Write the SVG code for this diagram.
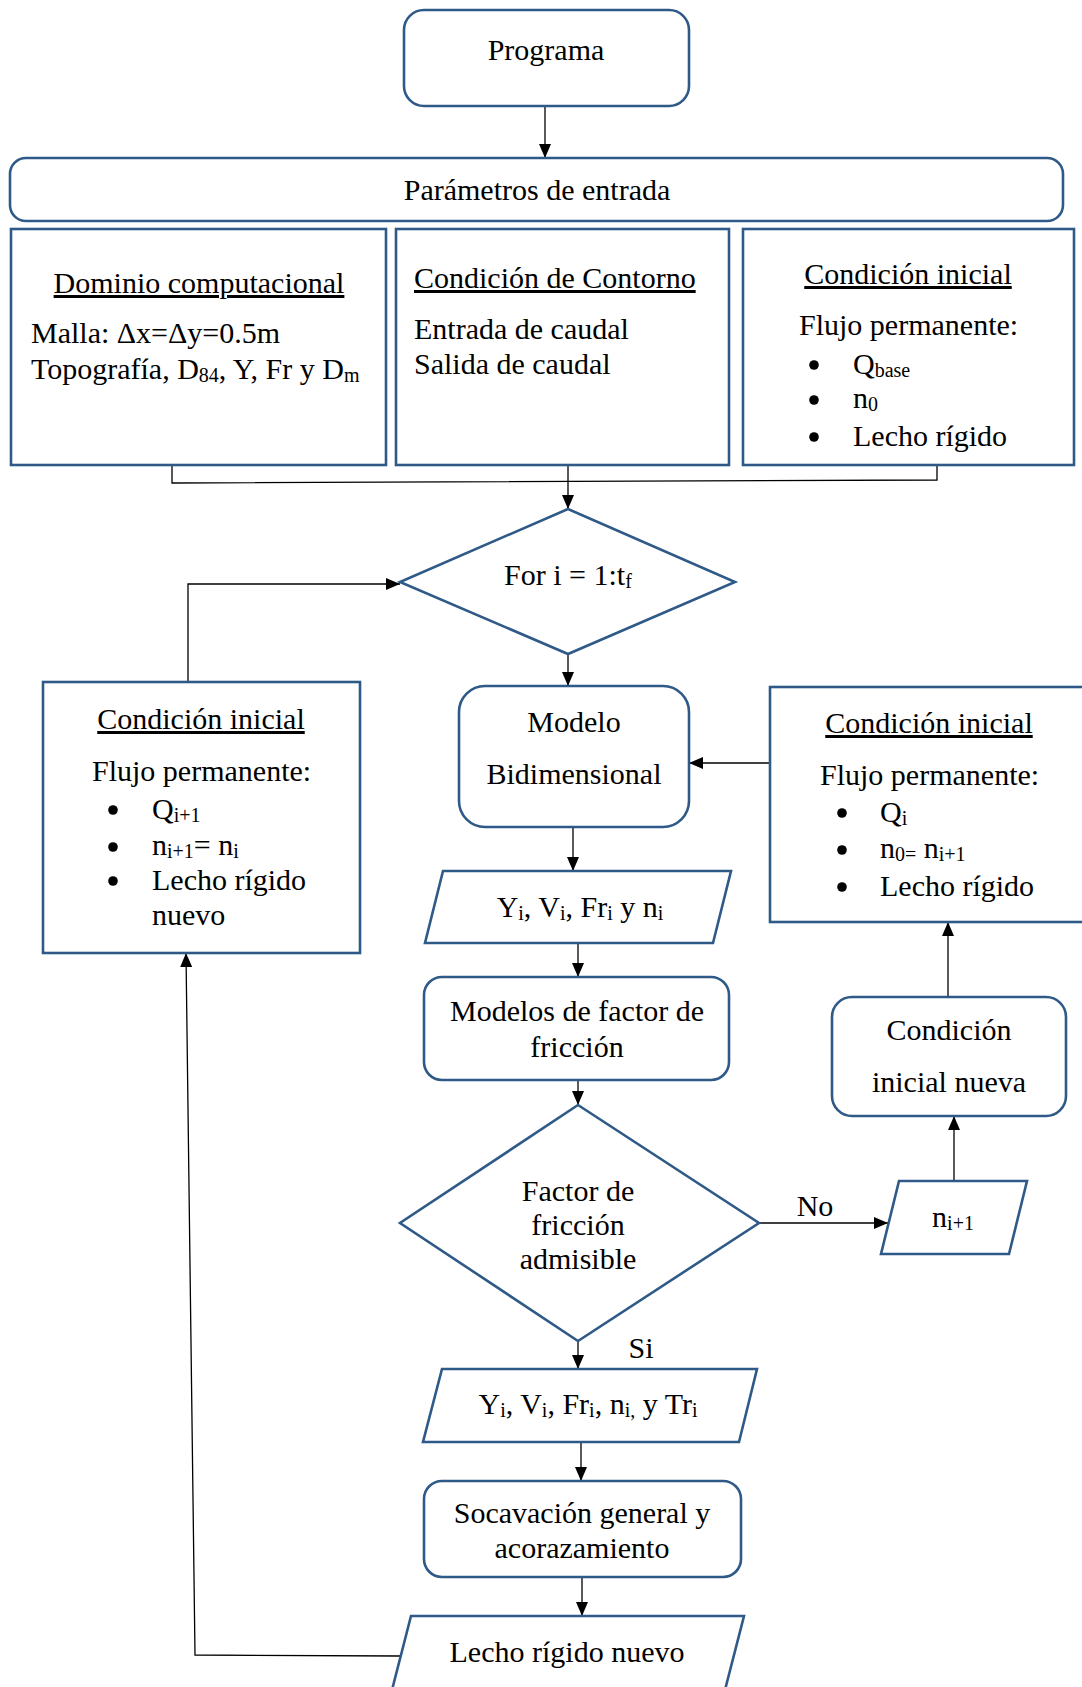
<svg xmlns="http://www.w3.org/2000/svg" width="1082" height="1687" viewBox="0 0 1082 1687">
<style>
.n{fill:#fff;stroke:#2F5A88;stroke-width:2.6}
.t{font-family:"Liberation Serif","Times New Roman",serif;font-size:30px;fill:#000}
.c{text-anchor:middle}
.u{text-decoration:underline}
.s{font-size:20px}
.k{fill:none;stroke:#000;stroke-width:1.3}
.b{fill:#000}
</style>
<defs>
<marker id="ah" markerUnits="userSpaceOnUse" markerWidth="14" markerHeight="12" refX="14" refY="6" orient="auto">
<path d="M0,0 L14,6 L0,12 Z" fill="#000"/>
</marker>
</defs>
<rect width="1082" height="1687" fill="#fff"/>

<g id="connectors">
<path class="k" d="M545,106 V158" marker-end="url(#ah)"/>
<path class="k" d="M172,465 V483 L937,480 V465"/>
<path class="k" d="M568,465 V509" marker-end="url(#ah)"/>
<path class="k" d="M188,682 V584 H400" marker-end="url(#ah)"/>
<path class="k" d="M568,654 V686" marker-end="url(#ah)"/>
<path class="k" d="M770,763 H689" marker-end="url(#ah)"/>
<path class="k" d="M573,827 V871" marker-end="url(#ah)"/>
<path class="k" d="M578,944 V977" marker-end="url(#ah)"/>
<path class="k" d="M578,1080 V1105" marker-end="url(#ah)"/>
<path class="k" d="M759,1223 H888" marker-end="url(#ah)"/>
<path class="k" d="M954,1181 V1116" marker-end="url(#ah)"/>
<path class="k" d="M948,997 V922" marker-end="url(#ah)"/>
<path class="k" d="M578,1341 V1369" marker-end="url(#ah)"/>
<path class="k" d="M581,1442 V1481" marker-end="url(#ah)"/>
<path class="k" d="M582,1577 V1616" marker-end="url(#ah)"/>
<path class="k" d="M400,1656 L195,1655 L186,953" marker-end="url(#ah)"/>
<text class="t c" x="815" y="1216">No</text>
<text class="t c" x="641" y="1358">Si</text>
</g>

<g id="programa">
<rect class="n" x="404" y="10" width="285" height="96" rx="20"/>
<text class="t c" x="546" y="60">Programa</text>
</g>

<g id="parametros">
<rect class="n" x="10" y="158" width="1053" height="63" rx="16"/>
<text class="t c" x="537" y="200">Parámetros de entrada</text>
</g>

<g id="dominio">
<rect class="n" x="11" y="229" width="375" height="236"/>
<text class="t c u" x="199" y="293">Dominio computacional</text>
<text class="t" x="31" y="343">Malla: Δx=Δy=0.5m</text>
<text class="t" x="31" y="379">Topografía, D<tspan class="s" dy="3">84</tspan><tspan dy="-3">, Y, Fr y D</tspan><tspan class="s" dy="3">m</tspan></text>
</g>

<g id="contorno">
<rect class="n" x="396" y="229" width="333" height="236"/>
<text class="t u" x="414" y="288">Condición de Contorno</text>
<text class="t" x="414" y="339">Entrada de caudal</text>
<text class="t" x="414" y="374">Salida de caudal</text>
</g>

<g id="cond_inicial_1">
<rect class="n" x="743" y="229" width="331" height="236"/>
<text class="t c u" x="908" y="284">Condición inicial</text>
<text class="t" x="799" y="335">Flujo permanente:</text>
<circle class="b" cx="814" cy="365" r="4.8"/>
<text class="t" x="853" y="374">Q<tspan class="s" dy="3">base</tspan></text>
<circle class="b" cx="814" cy="400" r="4.8"/>
<text class="t" x="853" y="408">n<tspan class="s" dy="3">0</tspan></text>
<circle class="b" cx="814" cy="437" r="4.8"/>
<text class="t" x="853" y="446">Lecho rígido</text>
</g>

<g id="for_loop">
<polygon class="n" points="568,509 735,582 568,654 400,582"/>
<text class="t c" x="568" y="585">For i = 1:t<tspan class="s" dy="3">f</tspan></text>
</g>

<g id="cond_inicial_izq">
<rect class="n" x="43" y="682" width="317" height="271"/>
<text class="t c u" x="201" y="729">Condición inicial</text>
<text class="t" x="92" y="781">Flujo permanente:</text>
<circle class="b" cx="113" cy="810" r="4.8"/>
<text class="t" x="152" y="819">Q<tspan class="s" dy="3">i+1</tspan></text>
<circle class="b" cx="113" cy="847" r="4.8"/>
<text class="t" x="152" y="855">n<tspan class="s" dy="3">i+1</tspan><tspan dy="-3">= n</tspan><tspan class="s" dy="3">i</tspan></text>
<circle class="b" cx="113" cy="881" r="4.8"/>
<text class="t" x="152" y="890">Lecho rígido</text>
<text class="t" x="152" y="925">nuevo</text>
</g>

<g id="modelo">
<rect class="n" x="459" y="686" width="230" height="141" rx="26"/>
<text class="t c" x="574" y="732">Modelo</text>
<text class="t c" x="574" y="784">Bidimensional</text>
</g>

<g id="cond_inicial_der">
<rect class="n" x="770" y="687" width="330" height="235"/>
<text class="t c u" x="929" y="733">Condición inicial</text>
<text class="t" x="820" y="785">Flujo permanente:</text>
<circle class="b" cx="842" cy="813" r="4.8"/>
<text class="t" x="880" y="822">Q<tspan class="s" dy="3">i</tspan></text>
<circle class="b" cx="842" cy="850" r="4.8"/>
<text class="t" x="880" y="858">n<tspan class="s" dy="3">0=</tspan><tspan dy="-3"> n</tspan><tspan class="s" dy="3">i+1</tspan></text>
<circle class="b" cx="842" cy="887" r="4.8"/>
<text class="t" x="880" y="896">Lecho rígido</text>
</g>

<g id="salida_1">
<polygon class="n" points="443,871 731,871 713,943 425,943"/>
<text class="t c" x="580" y="917">Y<tspan class="s" dy="3">i</tspan><tspan dy="-3">, V</tspan><tspan class="s" dy="3">i</tspan><tspan dy="-3">, Fr</tspan><tspan class="s" dy="3">i</tspan><tspan dy="-3"> y n</tspan><tspan class="s" dy="3">i</tspan></text>
</g>

<g id="modelos_friccion">
<rect class="n" x="424" y="977" width="305" height="103" rx="18"/>
<text class="t c" x="577" y="1021">Modelos de factor de</text>
<text class="t c" x="577" y="1057">fricción</text>
</g>

<g id="cond_inicial_nueva">
<rect class="n" x="832" y="997" width="234" height="119" rx="20"/>
<text class="t c" x="949" y="1040">Condición</text>
<text class="t c" x="949" y="1092">inicial nueva</text>
</g>

<g id="factor_admisible">
<polygon class="n" points="578,1105 759,1223 578,1341 400,1223"/>
<text class="t c" x="578" y="1201">Factor de</text>
<text class="t c" x="578" y="1235">fricción</text>
<text class="t c" x="578" y="1269">admisible</text>
</g>

<g id="n_siguiente">
<polygon class="n" points="899,1181 1027,1181 1009,1254 881,1254"/>
<text class="t c" x="953" y="1227">n<tspan class="s" dy="3">i+1</tspan></text>
</g>

<g id="salida_2">
<polygon class="n" points="442,1369 757,1369 739,1442 423,1442"/>
<text class="t c" x="588" y="1414">Y<tspan class="s" dy="3">i</tspan><tspan dy="-3">, V</tspan><tspan class="s" dy="3">i</tspan><tspan dy="-3">, Fr</tspan><tspan class="s" dy="3">i</tspan><tspan dy="-3">, n</tspan><tspan class="s" dy="3">i,</tspan><tspan dy="-3"> y Tr</tspan><tspan class="s" dy="3">i</tspan></text>
</g>

<g id="socavacion">
<rect class="n" x="424" y="1481" width="317" height="96" rx="18"/>
<text class="t c" x="582" y="1523">Socavación general y</text>
<text class="t c" x="582" y="1558">acorazamiento</text>
</g>

<g id="lecho_nuevo">
<polygon class="n" points="411,1616 744,1616 725,1690 392,1690"/>
<text class="t c" x="567" y="1662">Lecho rígido nuevo</text>
</g>
</svg>
